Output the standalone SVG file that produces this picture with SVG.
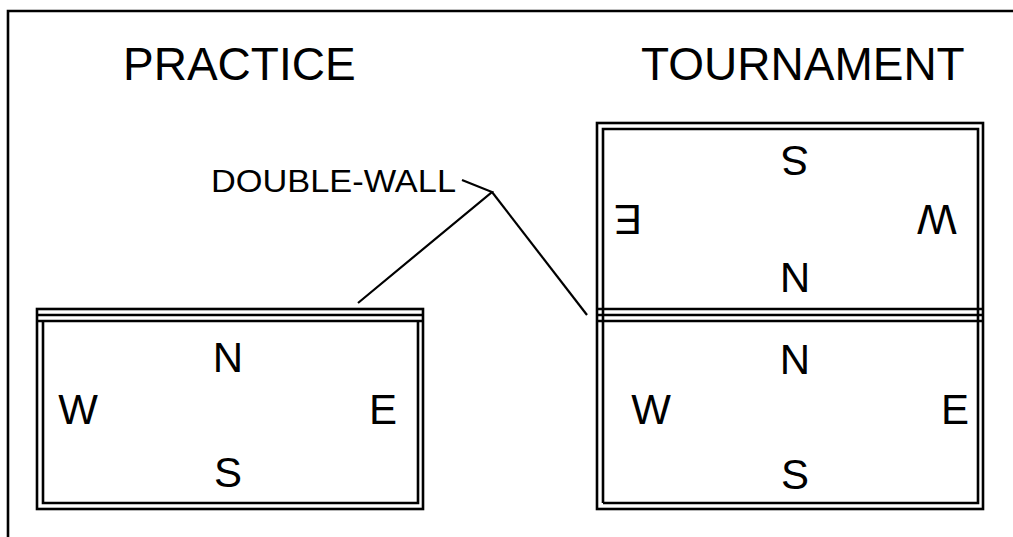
<svg xmlns="http://www.w3.org/2000/svg" width="1013" height="537" viewBox="0 0 1013 537">
  <style>
    .wall { fill: none; stroke: #000; stroke-width: 2.6; }
    .lead { fill: none; stroke: #000; stroke-width: 2.2; }
    .title { font-family: "Liberation Sans", Arial, sans-serif; font-size: 46px; fill: #000; }
    .dir { font-family: "Liberation Sans", Arial, sans-serif; font-size: 42px; fill: #000; text-anchor: middle; }
    .note { font-family: "Liberation Sans", Arial, sans-serif; font-size: 31px; fill: #000; }
  </style>
  <rect width="1013" height="537" fill="#fff"/>
  <!-- sheet frame -->
  <polyline class="wall" points="8,537 8,11 1013,11"/>

  <g id="title-practice"><text class="title" x="123" y="80">PRACTICE</text></g>
  <g id="title-tournament"><text class="title" x="641" y="80">TOURNAMENT</text></g>
  <g id="label-double-wall"><text class="note" x="211" y="192" textLength="245" lengthAdjust="spacingAndGlyphs">DOUBLE-WALL</text></g>

  <!-- practice court: double wall on the north side -->
  <g id="practice-court">
    <rect class="wall" x="37" y="309" width="386" height="200"/>
    <line class="wall" x1="37" y1="315" x2="423" y2="315"/>
    <line class="wall" x1="37" y1="321" x2="423" y2="321"/>
    <polyline class="wall" points="43,321 43,503 418,503 418,321"/>
    <text class="dir" x="228" y="372">N</text>
    <text class="dir" x="78" y="424">W</text>
    <text class="dir" x="383" y="424">E</text>
    <text class="dir" x="228" y="487">S</text>
  </g>

  <!-- tournament courts: two courts sharing a double wall -->
  <g id="tournament-court">
    <rect class="wall" x="597" y="123" width="386" height="386"/>
    <line class="wall" x1="597" y1="309" x2="983" y2="309"/>
    <line class="wall" x1="597" y1="315" x2="983" y2="315"/>
    <line class="wall" x1="597" y1="321" x2="983" y2="321"/>
    <polyline class="wall" points="603,503 603,129 978,129 978,503 603,503"/>
    <text class="dir" x="795" y="374">N</text>
    <text class="dir" x="651" y="424">W</text>
    <text class="dir" x="955" y="424">E</text>
    <text class="dir" x="795" y="489">S</text>
    <text class="dir" transform="rotate(180 795 161)" x="795" y="176">S</text>
    <text class="dir" transform="rotate(180 795 278)" x="795" y="293">N</text>
    <text class="dir" transform="rotate(180 628 220)" x="628" y="235">E</text>
    <text class="dir" transform="rotate(180 937 220)" x="937" y="235">W</text>
  </g>

  <g id="connectors">
    <polyline class="lead" points="462,180 492,192 358,303"/>
    <line class="lead" x1="492" y1="192" x2="587" y2="315"/>
  </g>
</svg>
